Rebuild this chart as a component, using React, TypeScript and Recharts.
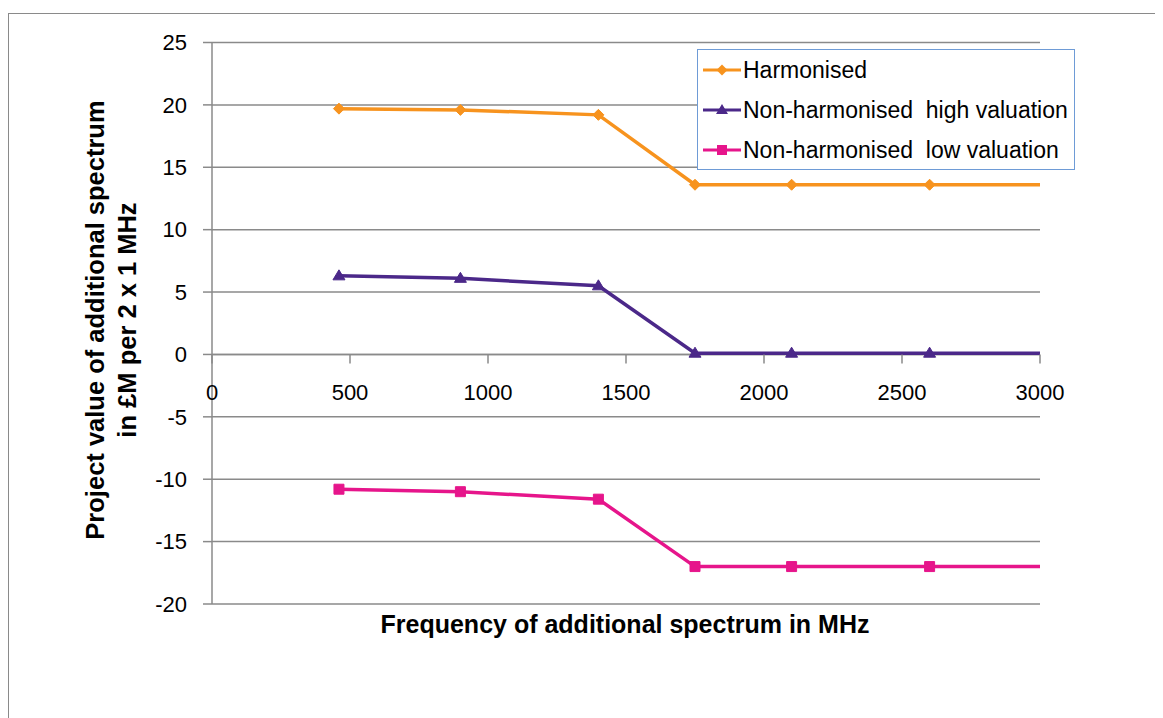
import React from "react";
import {
  LineChart,
  Line,
  XAxis,
  YAxis,
  CartesianGrid,
  ReferenceLine,
  ReferenceDot,
} from "recharts";

// ---------------------- DATA ----------------------
const frequencies = [460, 900, 1400, 1750, 2100, 2600, 3000];
const harmonised = [19.7, 19.6, 19.2, 13.6, 13.6, 13.6, 13.6];
const highValuation = [6.3, 6.1, 5.5, 0.1, 0.1, 0.1, 0.1];
const lowValuation = [-10.8, -11.0, -11.6, -17.0, -17.0, -17.0, -17.0];

const xTicks = [0, 500, 1000, 1500, 2000, 2500, 3000];
const yTicks = [-20, -15, -10, -5, 0, 5, 10, 15, 20, 25];

const SERIES = [
  { key: "harmonised", name: "Harmonised", color: "#F7931E", marker: "diamond" },
  { key: "high", name: "Non-harmonised  high valuation", color: "#4B2889", marker: "triangle" },
  { key: "low", name: "Non-harmonised  low valuation", color: "#E6158B", marker: "square" },
];

const data = frequencies.map((f, i) => ({
  freq: f,
  harmonised: harmonised[i],
  high: highValuation[i],
  low: lowValuation[i],
}));

const FONT = "'Liberation Sans', Arial, sans-serif";
const GRID = "#8a8a8a";

function markerPath(type: string, cx: number, cy: number) {
  if (type === "diamond") {
    const r = 5.5;
    return `M${cx},${cy - r}L${cx + r},${cy}L${cx},${cy + r}L${cx - r},${cy}Z`;
  }
  if (type === "triangle") {
    return `M${cx},${cy - 6}L${cx + 6},${cy + 4}L${cx - 6},${cy + 4}Z`;
  }
  const s = 5;
  return `M${cx - s},${cy - s}H${cx + s}V${cy + s}H${cx - s}Z`;
}

// last point (at 3000) carries no marker, like the original
const makeDot = (type: string, color: string) => (props: any) => {
  const { cx, cy, index } = props;
  if (index === frequencies.length - 1 || cx == null) {
    return <g key={`d-${type}-${index}`} />;
  }
  return <path key={`d-${type}-${index}`} d={markerPath(type, cx, cy)} fill={color} stroke={color} strokeWidth={1} />;
};

const XTickAtZero = (props: any) => {
  const { cx, cy, label } = props;
  if (cx == null) return <g />;
  return (
    <g>
      <line x1={cx} y1={cy} x2={cx} y2={cy + 9} stroke={GRID} strokeWidth={1.5} />
      <text x={cx} y={cy + 46} textAnchor="middle" fontSize={22} fontFamily={FONT} fill="#000">
        {label}
      </text>
    </g>
  );
};

const LegendBox = () => (
  <div
    style={{
      position: "absolute",
      left: 689,
      top: 41,
      border: "1.5px solid #6E9BD6",
      background: "#fff",
      width: 378,
      height: 121,
      boxSizing: "border-box",
      paddingTop: 0,
      fontFamily: FONT,
      fontSize: 23,
    }}
  >
    {SERIES.map((s) => (
      <div key={s.key} style={{ display: "flex", alignItems: "center", height: 40, whiteSpace: "pre" }}>
        <svg width={42} height={20} style={{ marginLeft: 3 }}>
          <line x1={2} y1={10} x2={40} y2={10} stroke={s.color} strokeWidth={3} />
          <path d={markerPath(s.marker, 21, 10)} fill={s.color} />
        </svg>
        <span>{s.name}</span>
      </div>
    ))}
  </div>
);

export default function App() {
  return (
    <div style={{ position: "relative", width: 1155, height: 710, overflow: "hidden", background: "#fff" }}>
      <div
        style={{
          position: "absolute",
          left: 0,
          top: 5,
          width: 1300,
          height: 900,
          borderLeft: "1.5px solid #8a8a8a",
          borderTop: "1.5px solid #8a8a8a",
        }}
      />
      <LineChart
        width={1155}
        height={710}
        data={data}
        margin={{ top: 34.5, right: 123, bottom: 114, left: 144 }}
        style={{ position: "absolute", left: 0, top: 0 }}
      >
        <CartesianGrid vertical={false} stroke={GRID} strokeWidth={1.5} />
        <XAxis dataKey="freq" type="number" domain={[0, 3000]} ticks={xTicks} hide height={0} />
        <YAxis
          type="number"
          domain={[-20, 25]}
          ticks={yTicks}
          width={60}
          tickSize={9}
          tickMargin={16}
          stroke={GRID}
          strokeWidth={1.5}
          tick={{ fontSize: 22, fontFamily: FONT, fill: "#000" }}
          axisLine={{ stroke: GRID, strokeWidth: 1.5 }}
          tickLine={{ stroke: GRID, strokeWidth: 1.5 }}
        />
        <ReferenceLine y={0} stroke={GRID} strokeWidth={1.5} />
        {xTicks.map((t) => (
          <ReferenceDot
            key={t}
            x={t}
            y={0}
            r={0}
            isFront
            shape={(p: any) => <XTickAtZero {...p} label={t} />}
          />
        ))}
        {SERIES.map((s) => (
          <Line
            key={s.key}
            type="linear"
            dataKey={s.key}
            name={s.name}
            stroke={s.color}
            strokeWidth={3.5}
            dot={makeDot(s.marker, s.color)}
            activeDot={false}
            isAnimationActive={false}
          />
        ))}
      </LineChart>
      <LegendBox />
      <div
        style={{
          position: "absolute",
          left: 0,
          top: 602,
          width: 1234,
          textAlign: "center",
          fontFamily: FONT,
          fontWeight: "bold",
          fontSize: 25,
          color: "#000",
        }}
      >
        Frequency of additional spectrum in MHz
      </div>
      <div
        style={{
          position: "absolute",
          left: 103,
          top: 312,
          width: 640,
          transform: "translate(-50%, -50%) rotate(-90deg)",
          textAlign: "center",
          fontFamily: FONT,
          fontWeight: "bold",
          fontSize: 25.5,
          lineHeight: "32px",
          color: "#000",
        }}
      >
        Project value of additional spectrum
        <br />
        in £M per 2 x 1 MHz
      </div>
    </div>
  );
}
